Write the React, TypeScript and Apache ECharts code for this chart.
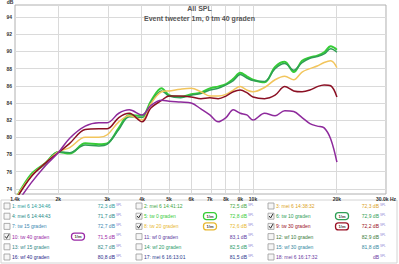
import React, { useEffect, useRef } from "react";
import * as echarts from "echarts";

// Frequencies (Hz) shared by all curves
const freqs = [1400, 1600, 1800, 2000, 2200, 2500, 2800, 3000, 3300, 3600, 4000, 4300, 4700, 5000, 5500, 6000, 6500, 7000, 7500, 8000, 8500, 9000, 9500, 10000, 11000, 12000, 13000, 14000, 15000, 16000, 17000, 18000, 19000, 20000];

// SPL values (dB)
const tw0 = [72.7, 75.7, 77.0, 78.3, 78.1, 79.3, 79.2, 79.3, 81.1, 82.6, 82.5, 84.2, 85.7, 84.9, 84.7, 85.0, 85.2, 85.7, 85.9, 86.2, 86.8, 87.5, 87.1, 86.7, 86.4, 88.2, 88.8, 87.6, 88.9, 89.3, 89.5, 89.9, 90.6, 90.2];
const tw10 = [72.6, 75.5, 76.9, 78.3, 78.2, 79.1, 79.0, 79.2, 80.9, 82.4, 82.3, 84.0, 85.4, 84.8, 84.6, 84.9, 85.1, 85.5, 85.7, 86.1, 86.6, 87.3, 86.9, 86.6, 86.5, 88.0, 88.6, 87.8, 88.7, 89.2, 89.4, 89.7, 90.3, 89.9];
const tw20 = [72.8, 75.5, 77.0, 78.3, 78.8, 80.0, 80.0, 80.3, 81.8, 82.5, 82.0, 83.9, 85.3, 85.4, 85.6, 85.7, 85.3, 84.8, 84.8, 85.0, 85.5, 85.9, 85.5, 85.3, 85.8, 86.7, 87.1, 86.7, 87.6, 88.0, 88.3, 88.7, 88.9, 88.1];
const tw30 = [72.6, 75.4, 77.0, 78.2, 79.3, 80.9, 81.0, 81.0, 82.3, 82.8, 81.8, 83.4, 84.3, 84.8, 84.8, 84.7, 84.5, 84.6, 84.5, 84.8, 85.3, 85.5, 85.2, 84.7, 84.5, 84.9, 85.9, 85.4, 85.3, 85.5, 85.9, 86.1, 86.0, 84.7];
const tw40 = [72.0, 74.7, 76.7, 78.2, 79.9, 81.3, 81.7, 81.7, 82.8, 83.2, 82.6, 83.7, 84.3, 84.2, 84.1, 84.0, 83.3, 82.6, 81.8, 82.3, 83.2, 82.8, 82.6, 82.0, 82.8, 82.5, 83.1, 83.0, 82.3, 81.6, 81.3, 81.1, 79.8, 77.1];

const plotted = [
  { name: "5: tw 0 graden", values: tw0, color: "#36cc36", width: 2 },
  { name: "6: tw 10 graden", values: tw10, color: "#2f9e55", width: 1.5 },
  { name: "8: tw 20 graden", values: tw20, color: "#f2c55c", width: 1.5 },
  { name: "9: tw 30 graden", values: tw30, color: "#8b1024", width: 1.5 },
  { name: "10: tw 40 graden", values: tw40, color: "#8e2a9c", width: 1.5 },
];

// Axis ticks
const xTickFreqs = [1400, 2000, 3000, 4000, 5000, 6000, 7000, 8000, 9000, 10000, 20000, 30000];
const xTickLabels = ["1.4k", "2k", "3k", "4k", "5k", "6k", "7k", "8k", "9k", "10k", "20k", "30.0k Hz"];
const xGridFreqs = [2000, 3000, 4000, 5000, 6000, 7000, 8000, 9000, 10000, 20000];
const yTicks = [74, 76, 78, 80, 82, 84, 86, 88, 90, 92, 94];
const yMin = 73.4;
const yMax = 95.4;

// Legend table
const legendNames = [
  "1: mei 6 14:34:46", "2: mei 6 14:41:12", "3: mei 6 14:38:32",
  "4: mei 6 14:44:43", "5: tw 0 graden", "6: tw 10 graden",
  "7: tw 15 graden", "8: tw 20 graden", "9: tw 30 graden",
  "10: tw 40 graden", "11: wf 0 graden", "12: wf 10 graden",
  "13: wf 15 graden", "14: wf 20 graden", "15: wf 30 graden",
  "16: wf 40 graden", "17: mei 6 16:13:01", "18: mei 6 16:17:32",
];
const legendValues = ["72,3", "72,5", "72,3", "71,7", "72,8", "72,9", "72,7", "72,6", "72,2", "71,5", "83,1", "82,9", "82,7", "82,5", "81,8", "80,8", "81,5", ""];
const legendColors = [
  "#2a9a9a", "#3fa63f", "#dba21e",
  "#268888", "#36cc36", "#2f9e55",
  "#3a88b0", "#e8b830", "#9a1024",
  "#9a2aa6", "#5a3aa0", "#3a7a3a",
  "#338888", "#2a9a6a", "#3388a0",
  "#2a2a8a", "#2a3a8e", "#6a3aa0",
];
const legendChecked = [false, false, false, false, true, true, false, true, true, true, false, false, false, false, false, false, false, false];

function buildLegend(): any[] {
  const els: any[] = [];
  els.push({ type: "rect", shape: { x: 1, y: 200, width: 396, height: 63 }, style: { fill: "none", stroke: "#d4d4d4", lineWidth: 1 }, silent: true });
  legendNames.forEach((name, i) => {
    const row = Math.floor(i / 3);
    const col = i % 3;
    const x0 = 4 + col * 132;
    const y = 206 + row * 10.2;
    const c = legendColors[i];
    els.push({ type: "rect", shape: { x: x0, y: y - 3, width: 6, height: 6 }, style: { fill: "#f6f6f6", stroke: "#9a9a9a", lineWidth: 0.8 }, silent: true });
    if (legendChecked[i]) {
      els.push({ type: "polyline", shape: { points: [[x0 + 1.2, y - 0.2], [x0 + 2.6, y + 1.8], [x0 + 5, y - 2.4]] }, style: { stroke: "#333", lineWidth: 1, fill: "none" }, silent: true });
      const ix = x0 + 74;
      els.push({ type: "rect", shape: { x: ix - 6.5, y: y - 3.5, width: 13, height: 7, r: 3 }, style: { fill: "#ffffff", stroke: c, lineWidth: 1.3 }, silent: true });
      els.push({ type: "text", x: ix, y: y, style: { text: "1/m", fontSize: 4, fontFamily: "Liberation Sans, Arial, sans-serif", fontWeight: "bold", fill: "#333", align: "center", verticalAlign: "middle" }, silent: true });
    }
    els.push({ type: "text", x: x0 + 8, y: y, style: { text: name, fontSize: 5, fontFamily: "Liberation Sans, Arial, sans-serif", fill: c, align: "left", verticalAlign: "middle" }, silent: true });
    const val = legendValues[i] ? legendValues[i] + " dB" : "dB";
    els.push({ type: "text", x: x0 + 111, y: y, style: { text: val, fontSize: 5, fontFamily: "Liberation Sans, Arial, sans-serif", fill: c, align: "right", verticalAlign: "middle" }, silent: true });
    els.push({ type: "text", x: x0 + 112, y: y - 1.6, style: { text: "SPL", fontSize: 3, fontFamily: "Liberation Sans, Arial, sans-serif", fill: "#8a8ad6", align: "left", verticalAlign: "middle" }, silent: true });
  });
  els.push({ type: "text", x: 10, y: 2, style: { text: "dB", fontSize: 5, fontFamily: "Liberation Sans, Arial, sans-serif", fontWeight: "bold", fill: "#333", align: "center", verticalAlign: "middle" }, silent: true });
  return els;
}

export default function App() {
  const ref = useRef<HTMLDivElement>(null);
  useEffect(() => {
    if (!ref.current) return;
    const chart = echarts.init(ref.current, null, { renderer: "svg" });
    const xTickVals = xTickFreqs.map((f) => Math.log10(f));
    const font = "Liberation Sans, Arial, sans-serif";
    const gridData: any[] = [
      ...xGridFreqs.map((f) => ({ xAxis: Math.log10(f) })),
      ...yTicks.map((v) => ({ yAxis: v })),
    ];
    const series: any[] = plotted.map((s, idx) => ({
      type: "line",
      name: s.name,
      data: freqs.map((f, i) => [Math.log10(f), s.values[i]]),
      showSymbol: false,
      smooth: 0.35,
      z: 3,
      lineStyle: { color: s.color, width: s.width },
      itemStyle: { color: s.color },
      ...(idx === 0
        ? {
            markLine: {
              silent: true,
              symbol: ["none", "none"],
              z: 1,
              label: { show: false },
              lineStyle: { color: "#dadada", width: 1, type: "solid" },
              emphasis: { disabled: true },
              animation: false,
              data: gridData,
            },
          }
        : {}),
    }));
    chart.setOption({
      animation: false,
      backgroundColor: "#ffffff",
      title: {
        text: "All SPL",
        subtext: "Event tweeter 1m, 0 tm 40 graden",
        left: "center",
        top: 5,
        itemGap: 3,
        padding: 0,
        textStyle: { fontSize: 7, fontWeight: "bold", color: "#555", fontFamily: font },
        subtextStyle: { fontSize: 7, fontWeight: "bold", color: "#555", fontFamily: font },
      },
      grid: { left: 15, right: 8, top: 5, bottom: 70, show: true, borderColor: "#b0b0b0", borderWidth: 1, backgroundColor: "#ffffff" },
      xAxis: {
        type: "value",
        min: Math.log10(1400),
        max: Math.log10(30000),
        axisLine: { show: false },
        axisTick: { show: false },
        splitLine: { show: false },
        axisLabel: {
          customValues: xTickVals,
          fontSize: 5,
          fontWeight: "bold",
          color: "#333",
          fontFamily: font,
          margin: 2,
          formatter: (v: number) => {
            const i = xTickVals.findIndex((t) => Math.abs(t - v) < 1e-6);
            return i >= 0 ? xTickLabels[i] : "";
          },
        },
      },
      yAxis: {
        type: "value",
        min: yMin,
        max: yMax,
        axisLine: { show: false },
        axisTick: { show: false },
        splitLine: { show: false },
        axisLabel: { customValues: yTicks, fontSize: 5, fontWeight: "bold", color: "#333", fontFamily: font, margin: 3 },
      },
      graphic: buildLegend(),
      series,
    });
    return () => chart.dispose();
  }, []);
  return <div ref={ref} style={{ width: 399, height: 264, position: "absolute", left: 0, top: 0 }} />;
}
